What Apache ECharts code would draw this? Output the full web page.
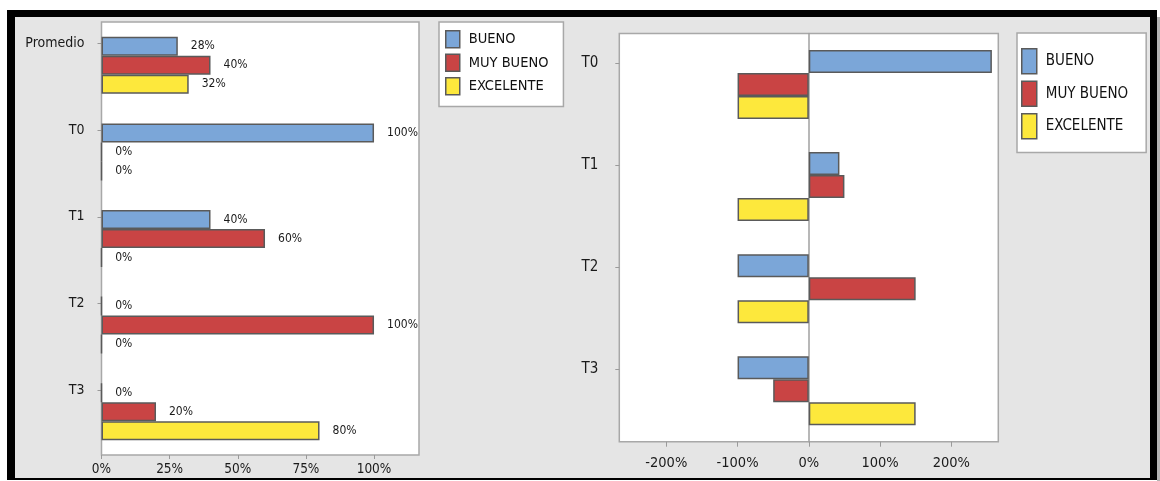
<!DOCTYPE html>
<html>
<head>
<meta charset="utf-8">
<script src="https://cdn.jsdelivr.net/npm/echarts@6/dist/echarts.min.js"></script>
<style>
  html, body { margin: 0; padding: 0; background: #fff; }
  #frame {
    position: absolute; left: 7px; top: 10px; width: 1150px; height: 470px;
    box-sizing: border-box; background: #e5e5e5;
    border-style: solid; border-color: #000; border-width: 7px 7px 2px 8px;
  }
  #edge { position: absolute; left: 1157px; top: 17px; width: 3px; height: 464px; background: #b4b4b4; }
  #chart { position: absolute; left: 0; top: 0; width: 1160px; height: 481px; }
</style>
</head>
<body>
<div id="frame"></div>
<div id="edge"></div>
<div id="chart"></div>
<script>
// Rating levels and their fill colours
const seriesNames = ['BUENO', 'MUY BUENO', 'EXCELENTE'];
const seriesColors = ['#7ba6d8', '#c94444', '#fde83c'];

// Share of each rating per period
const shareCategories = ['Promedio', 'T0', 'T1', 'T2', 'T3'];
const shareBueno = [0.28, 1.00, 0.40, 0.00, 0.00];
const shareMuyBueno = [0.40, 0.00, 0.60, 1.00, 0.20];
const shareExcelente = [0.32, 0.00, 0.00, 0.00, 0.80];
const shareTicks = [0, 0.25, 0.5, 0.75, 1];

// Change of each period against the average
const changeCategories = ['T0', 'T1', 'T2', 'T3'];
const changeBueno = [2.57, 0.43, -1.00, -1.00];
const changeMuyBueno = [-1.00, 0.50, 1.50, -0.50];
const changeExcelente = [-1.00, -1.00, -1.00, 1.50];
const changeTicks = [-2, -1, 0, 1, 2];

const NARROW = "'Liberation Sans Narrow', 'Arial Narrow', 'DejaVu Sans Condensed', sans-serif";
const pct = v => Math.round(v * 100) + '%';

// The category names sit beside the first bar of each group, so they are
// placed on a finer companion axis: `sub` slots per group, name in slot `at`.
function spread(cats, sub, at) {
  const out = [];
  cats.forEach(c => { for (let i = 0; i < sub; i++) out.push(i === at ? c : ''); });
  return out;
}

const barBorder = { borderColor: '#5a5a5a', borderWidth: 1.5 };

function barSeries(name, color, data, xi, yi, width, withLabel) {
  return {
    type: 'bar', name, data,
    xAxisIndex: xi, yAxisIndex: yi,
    barWidth: width, barGap: '0%',
    itemStyle: Object.assign({ color }, barBorder),
    label: withLabel ? {
      show: true, position: 'right', distance: 13,
      formatter: p => pct(p.value),
      fontFamily: NARROW, fontSize: 12, color: '#1a1a1a'
    } : { show: false }
  };
}

function legendAt(left, top, itemW, itemH, gap, fontSize, padding) {
  return {
    orient: 'vertical', left, top,
    data: seriesNames,
    icon: 'rect', itemWidth: itemW, itemHeight: itemH, itemGap: gap,
    backgroundColor: '#fff', borderColor: '#a8a8a8', borderWidth: 1.5,
    padding,
    selectedMode: false,
    textStyle: { fontFamily: NARROW, fontSize, lineHeight: itemH, color: '#111', padding: [0, 0, 0, 4] },
    itemStyle: barBorder
  };
}

const LEFT_SUB = 10, LEFT_AT = 2;
const RIGHT_SUB = 19, RIGHT_AT = 5;

const option = {
  animation: false,
  grid: [
    { left: 101.5, top: 22, width: 317.5, height: 433, show: true,
      backgroundColor: '#fff', borderColor: '#a8a8a8', borderWidth: 1.5 },
    { left: 619.3, top: 33.5, width: 379, height: 408.2, show: true,
      backgroundColor: '#fff', borderColor: '#a8a8a8', borderWidth: 1.5 }
  ],
  legend: [
    legendAt(439, 22, 14, 17, 5, 14.5, [8, 15, 11, 6]),
    legendAt(1017, 33, 15, 25, 6, 15, [15, 18, 13, 4])
  ],
  xAxis: [
    { type: 'value', gridIndex: 0, min: 0, max: 1.165,
      axisLine: { show: false }, splitLine: { show: false },
      axisTick: { show: true, length: 4, lineStyle: { color: '#9a9a9a' }, customValues: shareTicks },
      axisLabel: { margin: 7, fontFamily: NARROW, fontSize: 13.5, color: '#1a1a1a',
                   customValues: shareTicks, formatter: pct } },
    { type: 'value', gridIndex: 1, min: -2.66, max: 2.66,
      axisLine: { show: false }, splitLine: { show: false },
      axisTick: { show: true, length: 5, lineStyle: { color: '#9a9a9a' }, customValues: changeTicks },
      axisLabel: { margin: 14, fontFamily: NARROW, fontSize: 14.5, color: '#1a1a1a',
                   customValues: changeTicks, formatter: pct } }
  ],
  yAxis: [
    // bar axes
    { type: 'category', gridIndex: 0, data: shareCategories, inverse: true,
      axisLine: { show: false }, axisTick: { show: false }, axisLabel: { show: false } },
    { type: 'category', gridIndex: 0, position: 'left', inverse: true,
      data: spread(shareCategories, LEFT_SUB, LEFT_AT),
      axisLine: { show: false },
      axisTick: { show: true, alignWithLabel: true, length: 4,
                  interval: i => i % LEFT_SUB === LEFT_AT, lineStyle: { color: '#9a9a9a' } },
      axisLabel: { interval: 0, margin: 17, fontFamily: NARROW, fontSize: 14, color: '#1a1a1a' } },
    { type: 'category', gridIndex: 1, data: changeCategories, inverse: true,
      axisLine: { show: true, onZero: true, lineStyle: { color: '#a0a0a0', width: 1.5 } },
      axisTick: { show: false }, axisLabel: { show: false } },
    { type: 'category', gridIndex: 1, position: 'left', inverse: true,
      data: spread(changeCategories, RIGHT_SUB, RIGHT_AT),
      axisLine: { show: false, onZero: false },
      axisTick: { show: true, alignWithLabel: true, length: 4,
                  interval: i => i % RIGHT_SUB === RIGHT_AT, lineStyle: { color: '#9a9a9a' } },
      axisLabel: { interval: 0, margin: 21, fontFamily: NARROW, fontSize: 15, color: '#1a1a1a' } }
  ],
  series: [
    barSeries(seriesNames[0], seriesColors[0], shareBueno, 0, 0, 19, true),
    barSeries(seriesNames[1], seriesColors[1], shareMuyBueno, 0, 0, 19, true),
    barSeries(seriesNames[2], seriesColors[2], shareExcelente, 0, 0, 19, true),
    barSeries(seriesNames[0], seriesColors[0], changeBueno, 1, 2, 23, false),
    barSeries(seriesNames[1], seriesColors[1], changeMuyBueno, 1, 2, 23, false),
    barSeries(seriesNames[2], seriesColors[2], changeExcelente, 1, 2, 23, false)
  ]
};

const chart = echarts.init(document.getElementById('chart'), null, { renderer: 'canvas' });
chart.setOption(option);
</script>
</body>
</html>
